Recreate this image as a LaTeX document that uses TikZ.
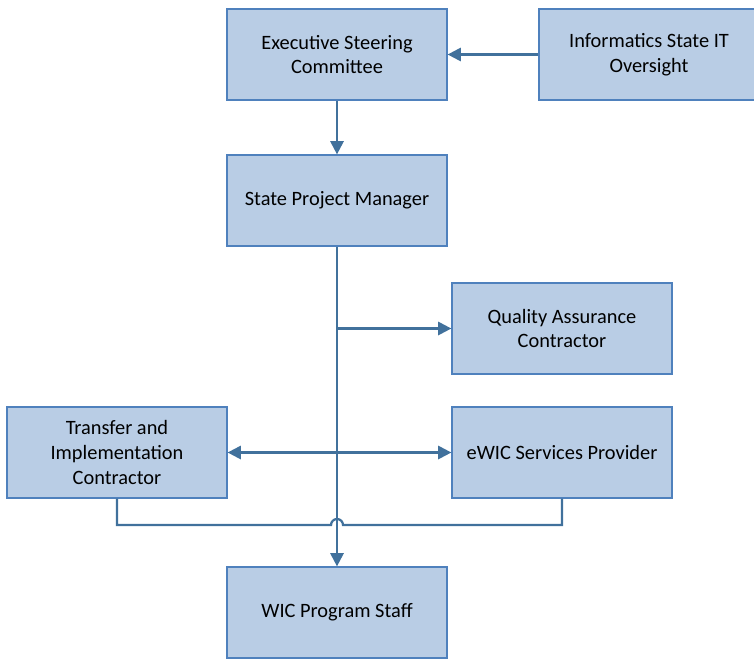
\documentclass[tikz,border=0pt]{standalone}
\usepackage{fontspec}
\setmainfont{Carlito}
\usetikzlibrary{arrows.meta, positioning, calc}
\definecolor{boxfill}{RGB}{185,205,229}
\definecolor{boxline}{RGB}{79,129,189}
\definecolor{linkline}{RGB}{65,113,156}

\begin{document}
\begin{tikzpicture}[
    unit/.style={draw=boxline, line width=0.9pt, fill=boxfill, minimum width=5.5cm, minimum height=2.275cm,
        align=center, font=\fontsize{14.5}{17.5}\selectfont, inner sep=2pt},
    link/.style={draw=linkline, line width=1.6pt, -{Triangle[length=0.33cm,width=0.33cm]}},
    plain/.style={draw=linkline, line width=1.6pt}
]
        \useasboundingbox (0,0) rectangle (18.85,-16.5);
        % Boxes
        \node[unit] (esc) at (8.425,-1.3625) {Executive Steering\\Committee};
        \node[unit] (ito) at (16.225,-1.3625) {Informatics State IT\\Oversight};
        \node[unit] (spm) at (8.425,-5.0125) {State Project Manager};
        \node[unit] (qac) at (14.05,-8.2125) {Quality Assurance\\Contractor};
        \node[unit] (tic) at (2.925,-11.3125) {Transfer and\\Implementation\\Contractor};
        \node[unit] (esp) at (14.05,-11.3125) {eWIC Services Provider};
        \node[unit] (wps) at (8.425,-15.3125) {WIC Program Staff};

        % Connectors
        \draw[link] (ito.west) -- (esc.east);
        \draw[link] (esc.south) -- (spm.north);
        \draw[link] (spm.south) -- (wps.north);
        \draw[link] (spm.south |- qac.west) -- (qac.west);
        \draw[link, {Triangle[length=0.33cm,width=0.33cm]}-{Triangle[length=0.33cm,width=0.33cm]}] (tic.east) -- (esp.west);

        % feedback line hopping over the main line
        \coordinate (hopL) at ($(spm.south |- 0,-13.125) + (-0.15,0)$);
        \coordinate (hopR) at ($(spm.south |- 0,-13.125) + (0.15,0)$);
        \draw[plain] (tic.south) |- (hopL) arc[start angle=180, end angle=0, radius=0.15] -- (hopR -| esp.south) -- (esp.south);
\end{tikzpicture}
\end{document}
